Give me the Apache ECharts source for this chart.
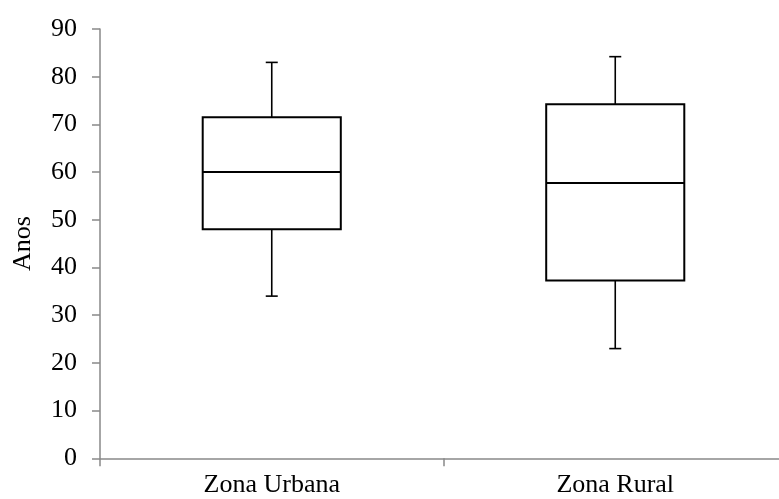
<!DOCTYPE html>
<html>
<head>
<meta charset="utf-8">
<script src="https://cdn.jsdelivr.net/npm/echarts@6/dist/echarts.min.js"></script>
<style>html,body{margin:0;padding:0;background:#fff;overflow:hidden}#c{width:779px;height:499px}</style>
</head>
<body>
<div id="c"></div>
<script>
var categories = ['Zona Urbana', 'Zona Rural'];
// [min, Q1, median, Q3, max]
var urbana = [34, 48, 60, 71.5, 83];
var rural = [23, 37.3, 57.7, 74.2, 84.2];
var yTicks = [0, 10, 20, 30, 40, 50, 60, 70, 80, 90];

var FONT = '"Liberation Serif", "Times New Roman", serif';
var data = [[0].concat(urbana), [1].concat(rural)];

function renderItem(params, api) {
  var x = api.value(0);
  var pMin = api.coord([x, api.value(1)]);
  var pQ1 = api.coord([x, api.value(2)]);
  var pMed = api.coord([x, api.value(3)]);
  var pQ3 = api.coord([x, api.value(4)]);
  var pMax = api.coord([x, api.value(5)]);
  var band = api.size([1, 0])[0];
  var bw = band * 0.402;
  var cw = 12;
  var cx = pMed[0];
  var boxStyle = { stroke: '#000', lineWidth: 2, fill: '#fff' };
  var lineStyle = { stroke: '#000', lineWidth: 1.6 };
  return {
    type: 'group',
    children: [
      { type: 'line', shape: { x1: cx, y1: pQ3[1], x2: cx, y2: pMax[1] }, style: lineStyle },
      { type: 'line', shape: { x1: cx - cw / 2, y1: pMax[1], x2: cx + cw / 2, y2: pMax[1] }, style: lineStyle },
      { type: 'line', shape: { x1: cx, y1: pQ1[1], x2: cx, y2: pMin[1] }, style: lineStyle },
      { type: 'line', shape: { x1: cx - cw / 2, y1: pMin[1], x2: cx + cw / 2, y2: pMin[1] }, style: lineStyle },
      { type: 'rect', shape: { x: cx - bw / 2, y: pQ3[1], width: bw, height: pQ1[1] - pQ3[1] }, style: boxStyle },
      { type: 'line', shape: { x1: cx - bw / 2, y1: pMed[1], x2: cx + bw / 2, y2: pMed[1] }, style: { stroke: '#000', lineWidth: 2 } }
    ]
  };
}

var chart = echarts.init(document.getElementById('c'));
chart.setOption({
  animation: false,
  backgroundColor: '#fff',
  grid: { left: 100, width: 687, top: 29, bottom: 40.7, containLabel: false, outerBoundsMode: 'none' },
  xAxis: {
    type: 'category',
    data: categories,
    boundaryGap: true,
    axisLine: { lineStyle: { color: '#898989', width: 1.5 } },
    axisTick: { show: true, length: 8, alignWithLabel: false, lineStyle: { color: '#898989', width: 1.5 } },
    axisLabel: { color: '#000', fontFamily: FONT, fontSize: 26, margin: 14 },
    splitLine: { show: false }
  },
  yAxis: {
    type: 'value',
    min: 0, max: 90, interval: 10,
    name: 'Anos',
    nameLocation: 'middle',
    nameRotate: 90,
    nameGap: 64,
    nameTextStyle: { color: '#000', fontFamily: FONT, fontSize: 26 },
    axisLine: { show: true, lineStyle: { color: '#898989', width: 1.5 } },
    axisTick: { show: true, length: 8, lineStyle: { color: '#898989', width: 1.5 } },
    axisLabel: {
      color: '#000', fontFamily: FONT, fontSize: 26, margin: 23,
      formatter: function (v) { return yTicks.indexOf(v) >= 0 ? String(v) : ''; }
    },
    splitLine: { show: false }
  },
  series: [{
    type: 'custom',
    renderItem: renderItem,
    encode: { x: 0, y: [1, 2, 3, 4, 5] },
    data: data
  }]
});
</script>
</body>
</html>
